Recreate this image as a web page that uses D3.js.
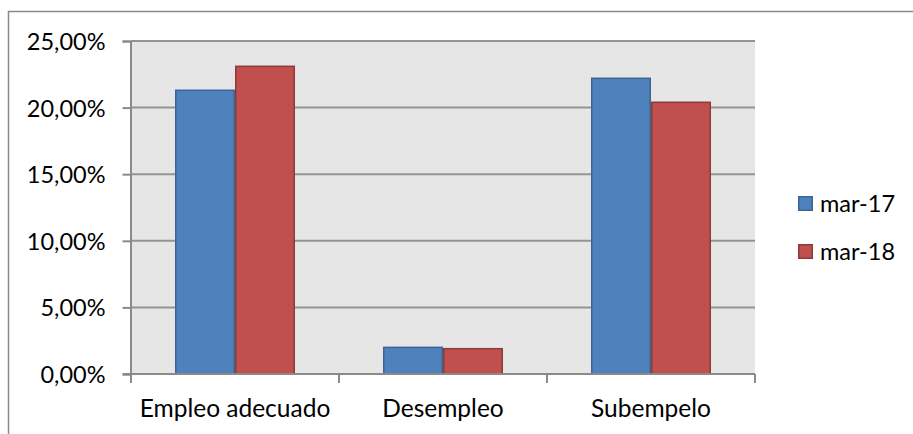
<!DOCTYPE html>
<html>
<head>
<meta charset="utf-8">
<script src="https://cdn.jsdelivr.net/npm/d3@7/dist/d3.min.js"></script>
<style>
  html, body { margin: 0; padding: 0; background: #fff; }
  svg { display: block; }
  text { font-family: Lato, "Open Sans", sans-serif; fill: #000; }
</style>
</head>
<body>
<svg id="chart" width="913" height="434"></svg>
<script>
// Labour-market shares, March 2017 vs March 2018
const categories = ["Empleo adecuado", "Desempleo", "Subempelo"];
const seriesNames = ["mar-17", "mar-18"];
const mar17 = [21.3, 2.0, 22.2];
const mar18 = [23.1, 1.9, 20.4];
const yTicks = [0, 5, 10, 15, 20, 25];
const seriesColors = ["#4F81BD", "#C0504D"];
const seriesStrokes = ["#3A6595", "#8E3B38"];

const values = [mar17, mar18];
const svg = d3.select("#chart");

const plot = { left: 131, right: 755, top: 41, bottom: 374 };

// outer chart frame
svg.append("path")
  .attr("d", "M8.5,434 V11.5 H913")
  .attr("fill", "none")
  .attr("stroke", "#8A8A8A")
  .attr("stroke-width", 1.5);

const x0 = d3.scaleBand().domain(categories).range([plot.left, plot.right]).padding(0);
const x1 = d3.scaleBand().domain(seriesNames).range([0, x0.bandwidth()])
  .paddingInner(0).paddingOuter(0.733);
const y = d3.scaleLinear().domain([0, 25]).range([plot.bottom, plot.top]);

// plot background
svg.append("rect")
  .attr("x", plot.left).attr("y", plot.top)
  .attr("width", plot.right - plot.left).attr("height", plot.bottom - plot.top)
  .attr("fill", "#E6E6E6");

// horizontal gridlines
svg.append("g")
  .selectAll("line")
  .data(yTicks.filter(d => d > 0))
  .join("line")
  .attr("x1", plot.left).attr("x2", plot.right)
  .attr("y1", d => y(d)).attr("y2", d => y(d))
  .attr("stroke", "#949494").attr("stroke-width", 2);

// bars
const groups = svg.append("g")
  .selectAll("g")
  .data(categories)
  .join("g")
  .attr("transform", d => `translate(${x0(d)},0)`);

groups.selectAll("rect")
  .data((c, i) => seriesNames.map((s, j) => ({ s, j, v: values[j][i] })))
  .join("rect")
  .attr("x", d => x1(d.s) + 0.75)
  .attr("width", x1.bandwidth() - 1.5)
  .attr("y", d => y(d.v))
  .attr("height", d => y(0) - y(d.v))
  .attr("fill", d => seriesColors[d.j])
  .attr("stroke", d => seriesStrokes[d.j])
  .attr("stroke-width", 1.5);

// y axis
const yAxis = d3.axisLeft(y)
  .tickValues(yTicks)
  .tickSize(8)
  .tickPadding(17)
  .tickFormat(d => d3.format(".2f")(d).replace(".", ",") + "%");

const gy = svg.append("g")
  .attr("transform", `translate(${plot.left - 0.5},0)`)
  .call(yAxis);
gy.select(".domain").attr("stroke", "#8A8A8A").attr("stroke-width", 2);
gy.selectAll(".tick line").attr("stroke", "#8A8A8A").attr("stroke-width", 2);
gy.selectAll(".tick text")
  .style("font-size", "23.5px")
  .attr("dy", "0.36em");

// x axis with ticks at band boundaries
const gx = svg.append("g");
gx.append("line")
  .attr("x1", plot.left - 8).attr("x2", plot.right)
  .attr("y1", plot.bottom).attr("y2", plot.bottom)
  .attr("stroke", "#8A8A8A").attr("stroke-width", 2);
const boundaries = categories.map(c => x0(c)).concat([x0(categories[categories.length - 1]) + x0.bandwidth()]);
gx.selectAll("line.tk")
  .data(boundaries)
  .join("line")
  .attr("class", "tk")
  .attr("x1", d => d).attr("x2", d => d)
  .attr("y1", plot.bottom).attr("y2", plot.bottom + 9)
  .attr("stroke", "#8A8A8A").attr("stroke-width", 2);
gx.selectAll("text")
  .data(categories)
  .join("text")
  .attr("x", d => x0(d) + x0.bandwidth() / 2)
  .attr("y", 417)
  .attr("text-anchor", "middle")
  .style("font-size", "24.5px")
  .text(d => d);

// legend
const legend = svg.append("g")
  .selectAll("g")
  .data(seriesNames)
  .join("g")
  .attr("transform", (d, i) => `translate(798,${196 + i * 48})`);
legend.append("rect")
  .attr("x", 0.75).attr("y", 0.75)
  .attr("width", 13.5).attr("height", 13.5)
  .attr("fill", (d, i) => seriesColors[i])
  .attr("stroke", (d, i) => seriesStrokes[i])
  .attr("stroke-width", 1.5);
legend.append("text")
  .attr("x", 22).attr("y", 15.5)
  .style("font-size", "23.5px")
  .text(d => d);
</script>
</body>
</html>
